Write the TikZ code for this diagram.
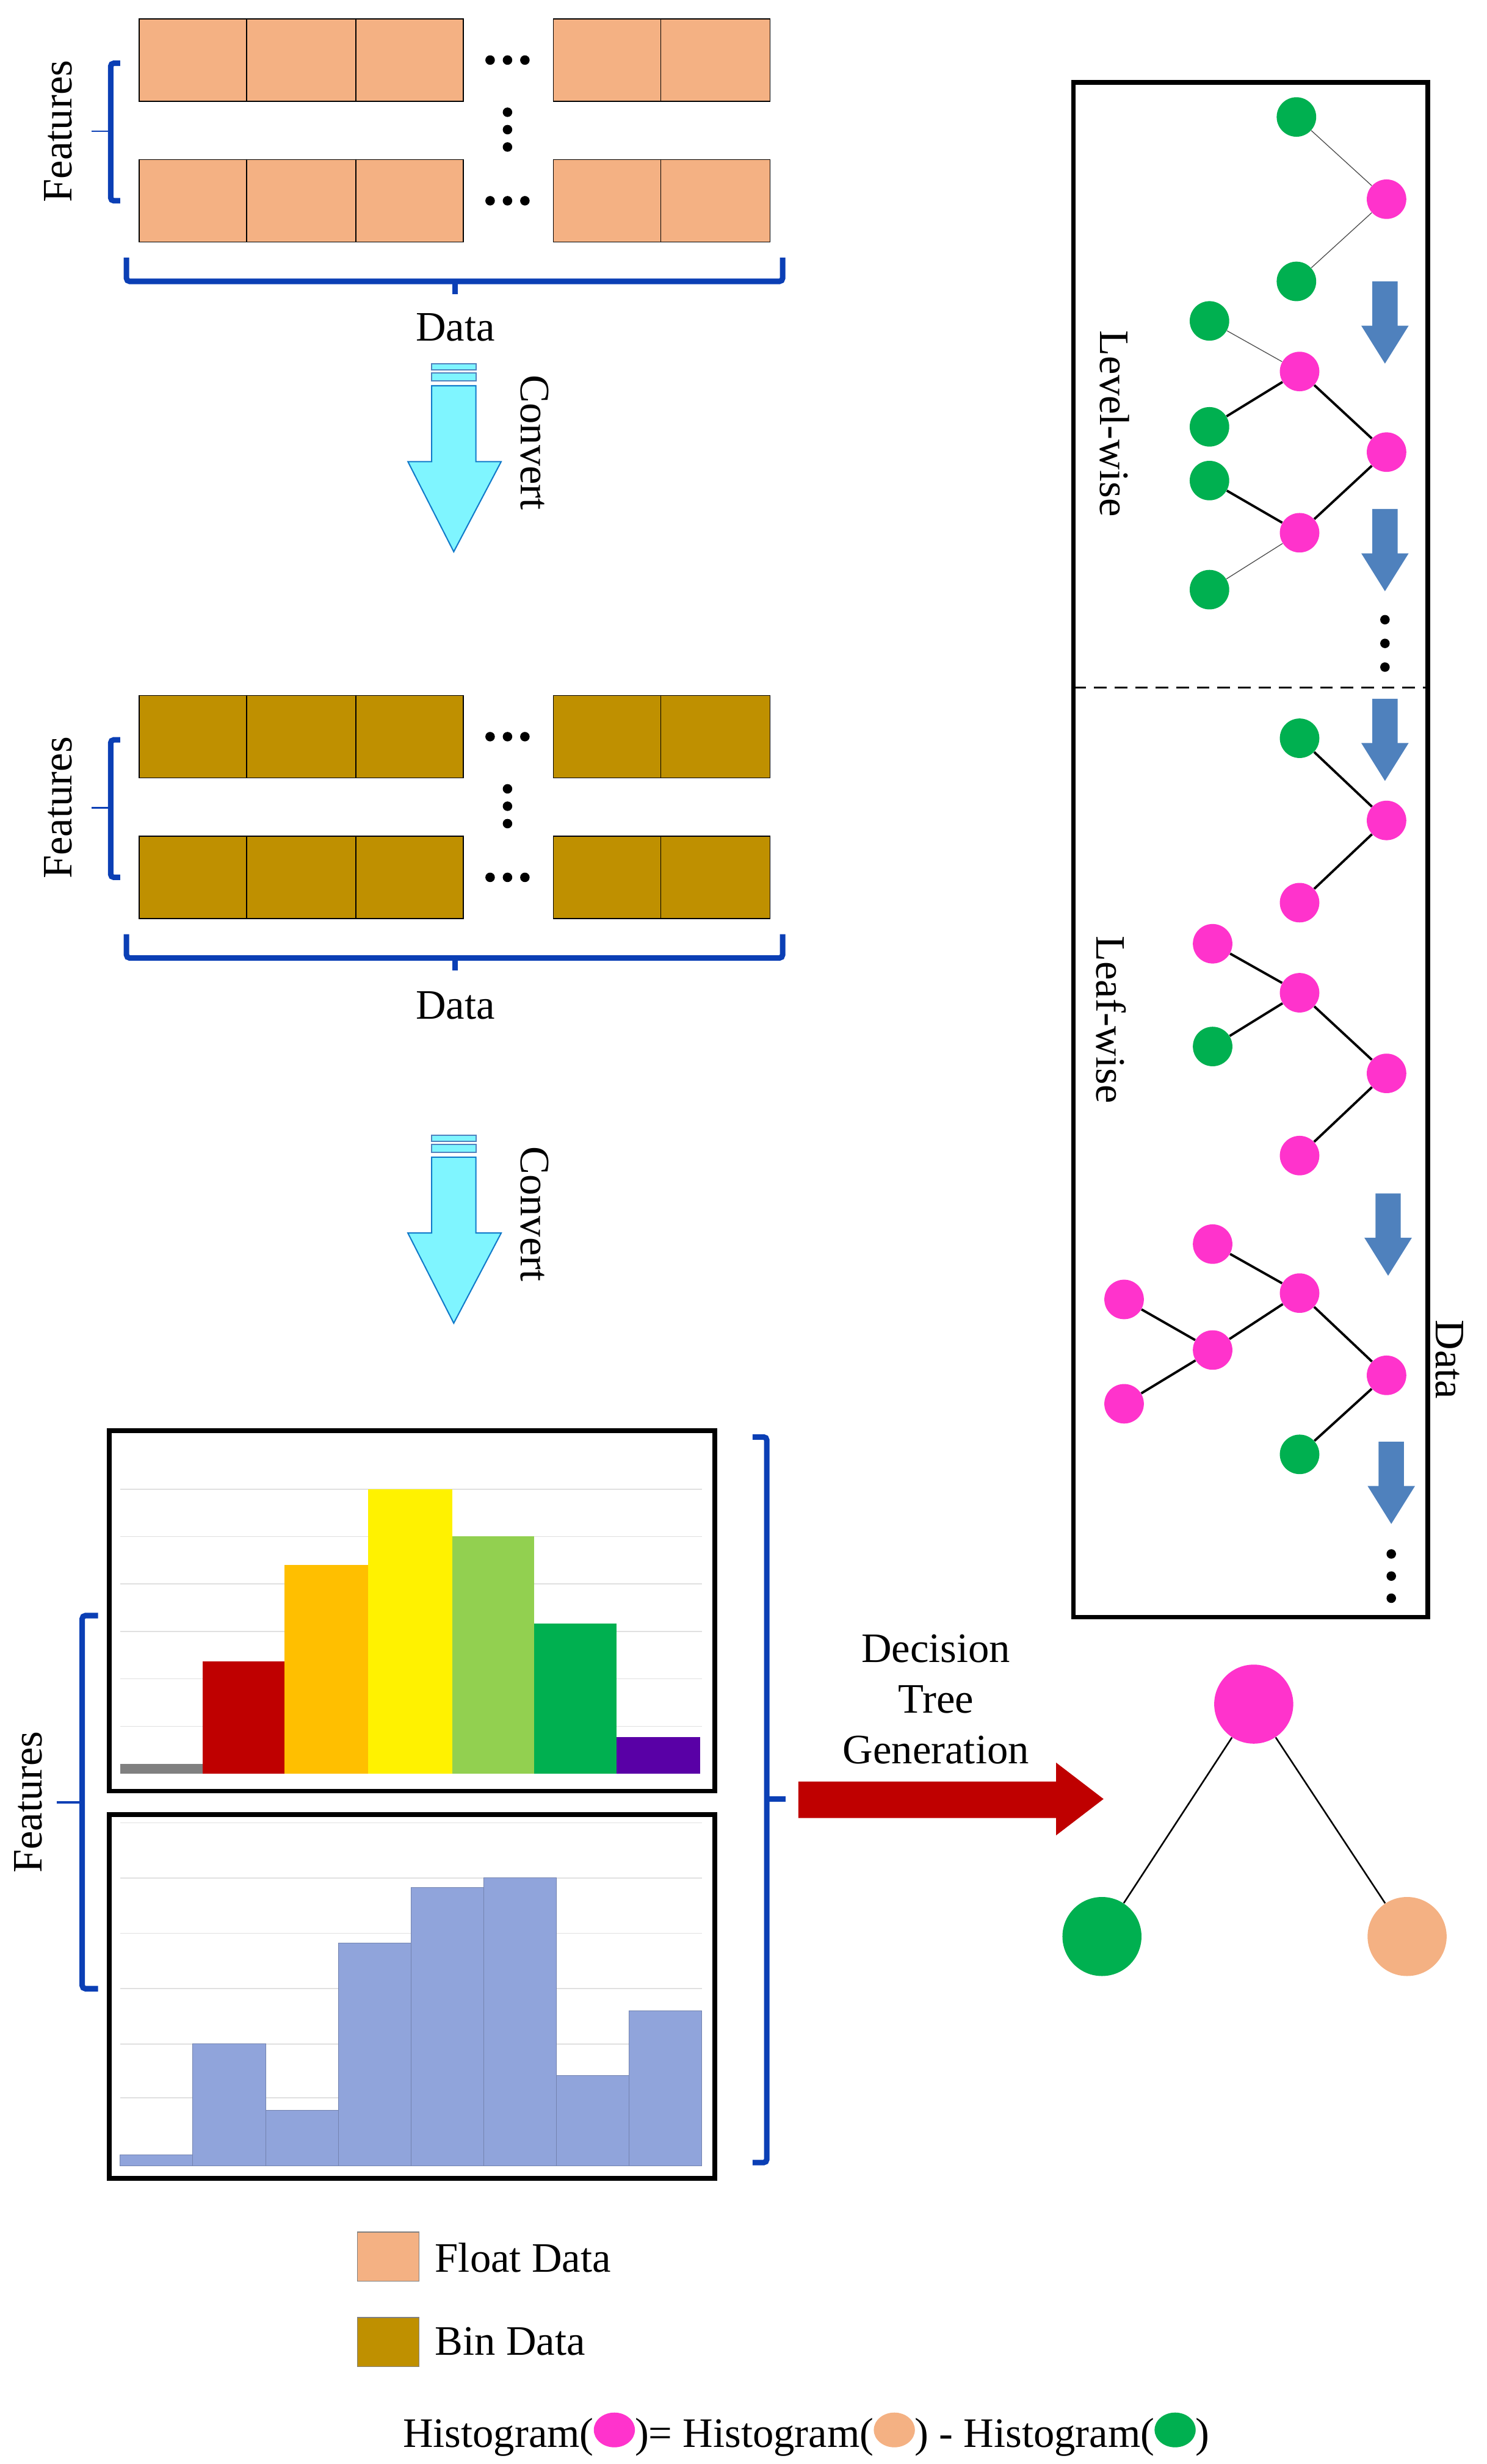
\documentclass[tikz,border=0pt]{standalone}
\usepackage{fontspec}
\setmainfont{Liberation Serif}
\begin{document}
\definecolor{peach}{HTML}{F4B183}
\definecolor{bin}{HTML}{BF9000}
\definecolor{pk}{HTML}{FF33CC}
\definecolor{gn}{HTML}{00B050}
\definecolor{lg}{HTML}{92D050}
\definecolor{ab}{HTML}{4F81BD}
\definecolor{brk}{HTML}{0B3FB5}
\definecolor{cy}{HTML}{7FF5FF}
\definecolor{hb}{HTML}{90A4DB}
\begin{tikzpicture}[x=1pt,y=-1pt,
  txt/.style={font=\fontsize{26.5}{30}\selectfont, inner sep=0},
  cell/.style={draw=black, line width=0.6},
  brace/.style={draw=brk, line width=3.5, rounded corners=2},
  g/.style={circle, fill=gn, minimum size=25, inner sep=0},
  p/.style={circle, fill=pk, minimum size=25, inner sep=0},
  thin/.style={draw=black!70, line width=0.5},
  thick/.style={draw=black, line width=1.5},
  dot/.style={circle, fill=black, minimum size=6, inner sep=0},
  grid/.style={draw=black!12, line width=0.6}]
\useasboundingbox (0,0) rectangle (940.5,1558.7);

% ---------- data blocks ----------
\foreach \yt/\col in {12/peach,440/bin}{
  \foreach \r in {0,89}{
    \foreach \xa/\xb in {88/156,156/225,225/293,350/418,418/487}{
      \filldraw[fill=\col, cell] (\xa,\yt+\r) rectangle (\xb,\yt+\r+52);
    }
    \foreach \dx in {-11,0,11} \node[dot] at (321+\dx,\yt+\r+26) {};
  }
  \foreach \dy in {-11,0,11} \node[dot] at (321,\yt+70+\dy) {};
  \draw[brace] (76,\yt+28) -- (70,\yt+28) -- (70,\yt+115) -- (76,\yt+115);
  \draw[brk, line width=1] (70,\yt+71) -- (58,\yt+71);
  \node[txt, rotate=90] at (37,\yt+71) {Features};
  \draw[brace] (80,\yt+151) -- (80,\yt+166) -- (495,\yt+166) -- (495,\yt+151);
  \draw[brace] (288,\yt+166) -- (288,\yt+174);
}
\node[txt] (d1) at (288,207) {Data};
\node[txt] (d2) at (288,636) {Data};

% ---------- convert arrows ----------
\foreach \yt/\nm in {230/c1,718/c2}{
  \filldraw[fill=cy, draw=cyan!60!blue, line width=0.8]
    (273,\yt+14) -- (301,\yt+14) -- (301,\yt+62) -- (317,\yt+62) -- (287,\yt+119)
    -- (258,\yt+62) -- (273,\yt+62) -- cycle;
  \filldraw[fill=cy, draw=ab, line width=0.8] (273,\yt) rectangle (301,\yt+4);
  \filldraw[fill=cy, draw=ab, line width=0.8] (273,\yt+6) rectangle (301,\yt+11);
  \node[txt, rotate=-90] (\nm) at (338,\yt+50) {Convert};
}

% ---------- histograms ----------
\foreach \gy in {942,972,1002,1032,1062,1092} \draw[grid] (76,\gy) -- (444,\gy);
\foreach \xa/\xb/\top/\col in {76/128/1116/gray,128/180/1051/{red!75!black},180/233/990/{orange!50!yellow},233/286/942/yellow,286/338/972/lg,338/390/1027/gn,390/443/1099/{violet!70!blue}}{
  \fill[\col] (\xa,\top) rectangle (\xb,1122);
}
\draw[line width=3] (69,905) rectangle (452,1133);

\foreach \gy in {1153,1188,1223,1258,1293,1327} \draw[grid] (76,\gy) -- (444,\gy);
\foreach \xa/\xb/\top in {76/122/1363,122/168/1293,168/214/1335,214/260/1229,260/306/1194,306/352/1188,352/398/1313,398/444/1272}{
  \filldraw[fill=hb, draw=hb!80!black, line width=0.4] (\xa,\top) rectangle (\xb,1370);
}
\draw[line width=3] (69,1148) rectangle (452,1378);

\draw[brace] (62,1022) -- (52,1022) -- (52,1258) -- (62,1258);
\draw[brk, line width=1.5] (52,1140) -- (36,1140);
\node[txt, rotate=90] at (18,1140) {Features};
\draw[brace] (476,909) -- (485,909) -- (485,1368) -- (476,1368);
\draw[brace] (485,1138) -- (497,1138);

% red arrow
\fill[red!75!black] (505,1127) -- (668,1127) -- (668,1115) -- (698,1138) -- (668,1161) -- (668,1150) -- (505,1150) -- cycle;
\node[txt, align=center] at (592,1075) {Decision\\[2pt]Tree\\[2pt]Generation};

% big tree
\node[circle, fill=pk, minimum size=50, inner sep=0] (R) at (793,1078) {};
\node[circle, fill=gn, minimum size=50, inner sep=0] (L) at (697,1225) {};
\node[circle, fill=peach, minimum size=50, inner sep=0] (Q) at (890,1225) {};
\draw[black, line width=1] (R) -- (L) (R) -- (Q);

% ---------- right panel ----------
\draw[line width=3] (679,52) rectangle (903,1023);
\draw[dash pattern=on 8pt off 5pt, line width=1] (679,435) -- (903,435);
\node[txt, rotate=-90] at (705,268) {Level-wise};
\node[txt, rotate=-90] at (703,645) {Leaf-wise};
\node[txt, rotate=-90] at (917,860) {Data};

\newcommand{\barrow}[2]{\fill[ab] (#1-8,#2) -- (#1+8,#2) -- (#1+8,#2+28) -- (#1+15,#2+28) -- (#1,#2+52) -- (#1-15,#2+28) -- (#1-8,#2+28) -- cycle;}

% level-wise
\node[g] (a1) at (820,74) {}; \node[p] (a2) at (877,126) {}; \node[g] (a3) at (820,178) {};
\draw[thin] (a1) -- (a2) -- (a3);
\barrow{876}{178}
\node[g] (b1) at (765,203) {}; \node[p] (b2) at (822,235) {}; \node[g] (b3) at (765,270) {};
\node[g] (b4) at (765,304) {}; \node[p] (b5) at (822,337) {}; \node[g] (b6) at (765,373) {};
\node[p] (b7) at (877,286) {};
\draw[thin] (b1) -- (b2); \draw[thin] (b6) -- (b5);
\draw[thick] (b3) -- (b2) -- (b7) -- (b5) -- (b4);
\barrow{876}{322}
\foreach \dy in {392,407,422} \node[dot] at (876,\dy) {};

% leaf-wise
\barrow{876}{442}
\node[g] (c1) at (822,467) {}; \node[p] (c2) at (877,519) {}; \node[p] (c3) at (822,571) {};
\draw[thick] (c1) -- (c2) -- (c3);
\node[p] (e1) at (767,597) {}; \node[p] (e2) at (822,628) {}; \node[g] (e3) at (767,662) {};
\node[p] (e4) at (877,679) {}; \node[p] (e5) at (822,731) {};
\draw[thick] (e1) -- (e2) -- (e3); \draw[thick] (e2) -- (e4) -- (e5);
\barrow{878}{755}
\node[p] (f1) at (711,822) {}; \node[p] (f2) at (767,854) {}; \node[p] (f3) at (711,888) {};
\node[p] (f4) at (767,787) {}; \node[p] (f5) at (822,818) {}; \node[p] (f6) at (877,870) {};
\node[g] (f7) at (822,920) {};
\draw[thick] (f1) -- (f2) -- (f3); \draw[thick] (f2) -- (f5); \draw[thick] (f4) -- (f5) -- (f6) -- (f7);
\barrow{880}{912}
\foreach \dy in {983,997,1011} \node[dot] at (880,\dy) {};

% ---------- legend ----------
\filldraw[fill=peach, draw=gray, line width=0.5] (226,1412) rectangle (265,1443);
\node[txt, anchor=west] at (275,1428) {Float Data};
\filldraw[fill=bin, draw=gray, line width=0.5] (226,1466) rectangle (265,1497);
\node[txt, anchor=west] at (275,1481) {Bin Data};
\node[txt] at (510,1540) {Histogram(\tikz\fill[pk] (0,0) ellipse (13pt and 11pt);)= Histogram(\tikz\fill[peach] (0,0) ellipse (13pt and 11pt);) - Histogram(\tikz\fill[gn] (0,0) ellipse (13pt and 11pt);)};
\end{tikzpicture}
\end{document}
